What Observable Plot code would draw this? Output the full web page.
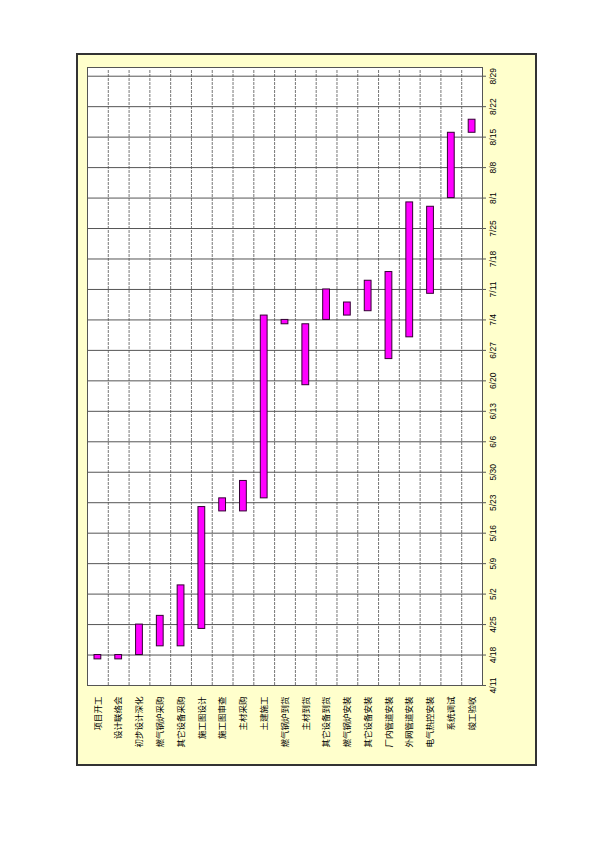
<!DOCTYPE html>
<html><head><meta charset="utf-8">
<script src="https://cdn.jsdelivr.net/npm/d3@7"></script>
<script src="https://cdn.jsdelivr.net/npm/@observablehq/plot@0.6"></script>
<style>
body{margin:0;background:#fff;}
#wrap{position:relative;width:600px;height:850px;}
#box{position:absolute;left:76px;top:53px;width:457px;height:709px;background:#FFFFCC;border:2px solid #333;}
#chart{position:absolute;left:0;top:0;}
</style></head><body>
<div id="wrap"><div id="box"></div><div id="chart"></div></div>
<script>
const tasks = ["项目开工","设计联络会","初步设计深化","燃气锅炉采购","其它设备采购","施工图设计","施工图审查","主材采购","土建施工","燃气锅炉到货","主材到货","其它设备到货","燃气锅炉安装","其它设备安装","厂内管道安装","外网管道安装","电气热控安装","系统调试","竣工验收"];
const starts = ["4/17","4/17","4/18","4/20","4/20","4/24","5/21","5/21","5/24","7/3","6/19","7/4","7/5","7/6","6/25","6/30","7/10","8/1","8/16"];
const ends   = ["4/18","4/18","4/25","4/27","5/4","5/22","5/24","5/28","7/5","7/4","7/3","7/11","7/8","7/13","7/15","7/31","7/30","8/16","8/19"];
const tickLabels = ["4/11","4/18","4/25","5/2","5/9","5/16","5/23","5/30","6/6","6/13","6/20","6/27","7/4","7/11","7/18","7/25","8/1","8/8","8/15","8/22","8/29"];
const axisStart = "4/11";
const axisEnd = "8/31";
const YEAR = 2010;

const toDate = s => { const [m, d] = s.split("/").map(Number); return new Date(Date.UTC(YEAR, m - 1, d)); };
const data = tasks.map((t, i) => ({task: t, start: toDate(starts[i]), end: toDate(ends[i])}));
const ticks = tickLabels.map(toDate);
const d0 = toDate(axisStart), d1 = toDate(axisEnd);

const W = 600, H = 850, mL = 87, mR = 118, mT = 67, mB = 165;
const bw = (W - mL - mR) / tasks.length;

const chart = Plot.plot({
  width: W, height: H,
  marginLeft: mL, marginRight: mR, marginTop: mT, marginBottom: mB,
  style: {background: "transparent", fontSize: "8.5px", fontFamily: "'Liberation Sans', Arial, 'Noto Sans CJK SC', sans-serif", color: "#000"},
  x: {domain: tasks, padding: 0, round: false},
  y: {type: "utc", domain: [d0, d1]},
  marks: [
    Plot.frame({fill: "white", stroke: "none"}),
    Plot.ruleX(tasks, {x: d => d, dx: -bw / 2, y1: d0, y2: d1, insetBottom: -3, stroke: "#777", strokeDasharray: "3,1"}),
    Plot.ruleX([tasks[tasks.length - 1]], {x: d => d, dx: bw / 2, y1: d0, y2: d1, insetBottom: -3, stroke: "#555"}),
    Plot.ruleY(ticks, {y: d => d, stroke: "#555"}),
    Plot.frame({stroke: "#555"}),
    Plot.barY(data, {x: "task", y1: "start", y2: "end", fill: "#FF00FF", stroke: "#330033", strokeWidth: 1, insetLeft: 7, insetRight: 7}),
    Plot.axisY({anchor: "right", ticks: ticks, tickFormat: d3.utcFormat("%-m/%-d"), tickSize: 3, tickPadding: 4, tickRotate: -90, textAnchor: "middle", lineAnchor: "top", stroke: "#555", label: null}),
    Plot.axisX({anchor: "bottom", tickSize: 0, tickPadding: 11, tickRotate: -90, textAnchor: "end", lineAnchor: "middle", fontFamily: "'Noto Sans CJK SC', sans-serif", label: null})
  ]
});
document.getElementById("chart").appendChild(chart);
</script>
</body></html>
